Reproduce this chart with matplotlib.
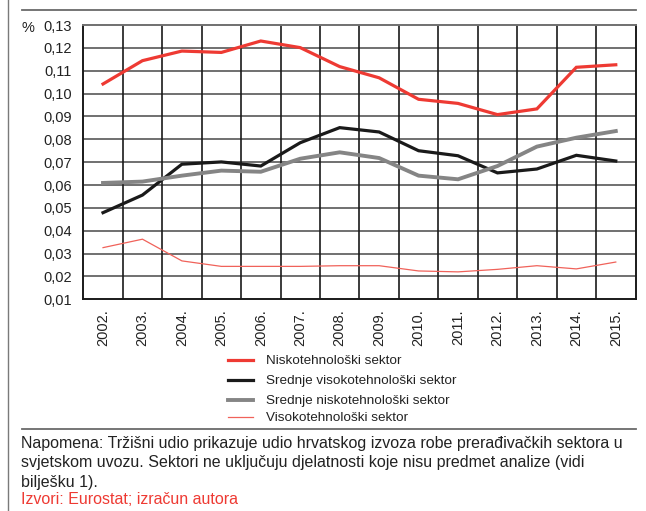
import matplotlib
matplotlib.use("Agg")
import matplotlib.pyplot as plt
from matplotlib.lines import Line2D
from matplotlib.ticker import FuncFormatter
from matplotlib import font_manager

years = ["2002.", "2003.", "2004.", "2005.", "2006.", "2007.", "2008.",
         "2009.", "2010.", "2011.", "2012.", "2013.", "2014.", "2015."]
nisko = [0.1042, 0.1144, 0.1186, 0.1180, 0.1230, 0.1201, 0.1118,
         0.1069, 0.0975, 0.0957, 0.0908, 0.0933, 0.1115, 0.1126]
sred_visoko = [0.0479, 0.0556, 0.0691, 0.0701, 0.0683, 0.0785, 0.0851,
               0.0832, 0.0750, 0.0728, 0.0653, 0.0670, 0.0730, 0.0705]
sred_nisko = [0.0609, 0.0615, 0.0641, 0.0663, 0.0658, 0.0715, 0.0743,
              0.0718, 0.0641, 0.0625, 0.0683, 0.0768, 0.0807, 0.0836]
visoko = [0.0326, 0.0363, 0.0268, 0.0244, 0.0244, 0.0244, 0.0247,
          0.0247, 0.0224, 0.0220, 0.0231, 0.0247, 0.0233, 0.0263]
series_names = ["Niskotehnološki sektor", "Srednje visokotehnološki sektor",
                "Srednje niskotehnološki sektor", "Visokotehnološki sektor"]
yticks = [0.01, 0.02, 0.03, 0.04, 0.05, 0.06, 0.07, 0.08, 0.09, 0.10, 0.11, 0.12, 0.13]

installed = {f.name for f in font_manager.fontManager.ttflist}
narrow = "Liberation Sans Narrow" if "Liberation Sans Narrow" in installed else "Liberation Sans"
legend_size = 11 if narrow == "Liberation Sans Narrow" else 9.7
plt.rcParams['font.family'] = ['Liberation Sans', 'DejaVu Sans']

W, H = 646, 511
fig = plt.figure(figsize=(W / 100, H / 100), dpi=100)

def fx(px):
    return px / W

def fy(py):
    return 1 - py / H

ax = fig.add_axes([fx(83.3), fy(299.3), fx(635.5) - fx(83.3), fy(25) - fy(299.3)])

RED = "#ee3a33"
BLACK = "#1a1a1a"
GRAY = "#858585"
LRED = "#f0625a"

x = list(range(len(years)))
styles = [(nisko, RED, 2.3), (sred_visoko, BLACK, 2.3), (sred_nisko, GRAY, 2.8), (visoko, LRED, 0.9)]
for (vals, c, lw) in styles:
    ax.plot(x, vals, color=c, lw=lw, solid_joinstyle='miter', zorder=3)

ax.set_xlim(-0.5, len(years) - 0.5)
ax.set_ylim(0.01, 0.13)
ax.set_yticks(yticks)
ax.yaxis.set_major_formatter(FuncFormatter(lambda v, p: f"{v:.2f}".replace(".", ",")))
ax.set_xticks(x)
ax.set_xticklabels(years, rotation=90, va='top', ha='center')
ax.tick_params(axis='both', length=0, labelsize=10.5, colors="#222222")
ax.tick_params(axis='y', pad=8)
ax.tick_params(axis='x', pad=7)

for yv in yticks[1:-1]:
    ax.axhline(yv, color="#707070", lw=1.4, zorder=1)
for xv in [i + 0.5 for i in range(len(years) - 1)]:
    ax.axvline(xv, color="#1a1a1a", lw=1.2, zorder=1)

for s in ['left', 'bottom', 'right']:
    ax.spines[s].set_color("#1a1a1a")
    ax.spines[s].set_linewidth(1.4)
ax.spines['top'].set_color("#707070")
ax.spines['top'].set_linewidth(1.4)

fig.text(fx(22), fy(28), "%", fontsize=10.5, color="#222222", va='center', ha='left')

# decorative frame lines
fig.add_artist(Line2D([fx(7.5), fx(7.5)], [0, 1], color="#7a7a7a", lw=1.0))
fig.add_artist(Line2D([fx(22), fx(635.5)], [fy(10), fy(10)], color="#6a6a6a", lw=1.3))
fig.add_artist(Line2D([fx(22), fx(635.5)], [fy(429.3), fy(429.3)], color="#6a6a6a", lw=1.3))

# legend
leg_y = [359.5, 380, 400, 417]
for (vals, c, lw), name, ly in zip(styles, series_names, leg_y):
    fig.add_artist(Line2D([fx(228), fx(253)], [fy(ly), fy(ly)], color=c, lw=lw))
    fig.text(fx(266), fy(ly + 4), name, family=[narrow, 'DejaVu Sans'], fontsize=legend_size,
             color="#222222", va='baseline', ha='left')

notes = ["Napomena: Tržišni udio prikazuje udio hrvatskog izvoza robe prerađivačkih sektora u",
         "svjetskom uvozu. Sektori ne uključuju djelatnosti koje nisu predmet analize (vidi",
         "bilješku 1)."]
note_base = [448, 467, 486.5]
for t, b in zip(notes, note_base):
    fig.text(fx(21), fy(b), t, fontsize=11.5, color="#222222", va='baseline', ha='left')
fig.text(fx(21), fy(504), "Izvori: Eurostat; izračun autora", fontsize=11.5, color=RED,
         va='baseline', ha='left')

fig.savefig("out.png", dpi=100)
